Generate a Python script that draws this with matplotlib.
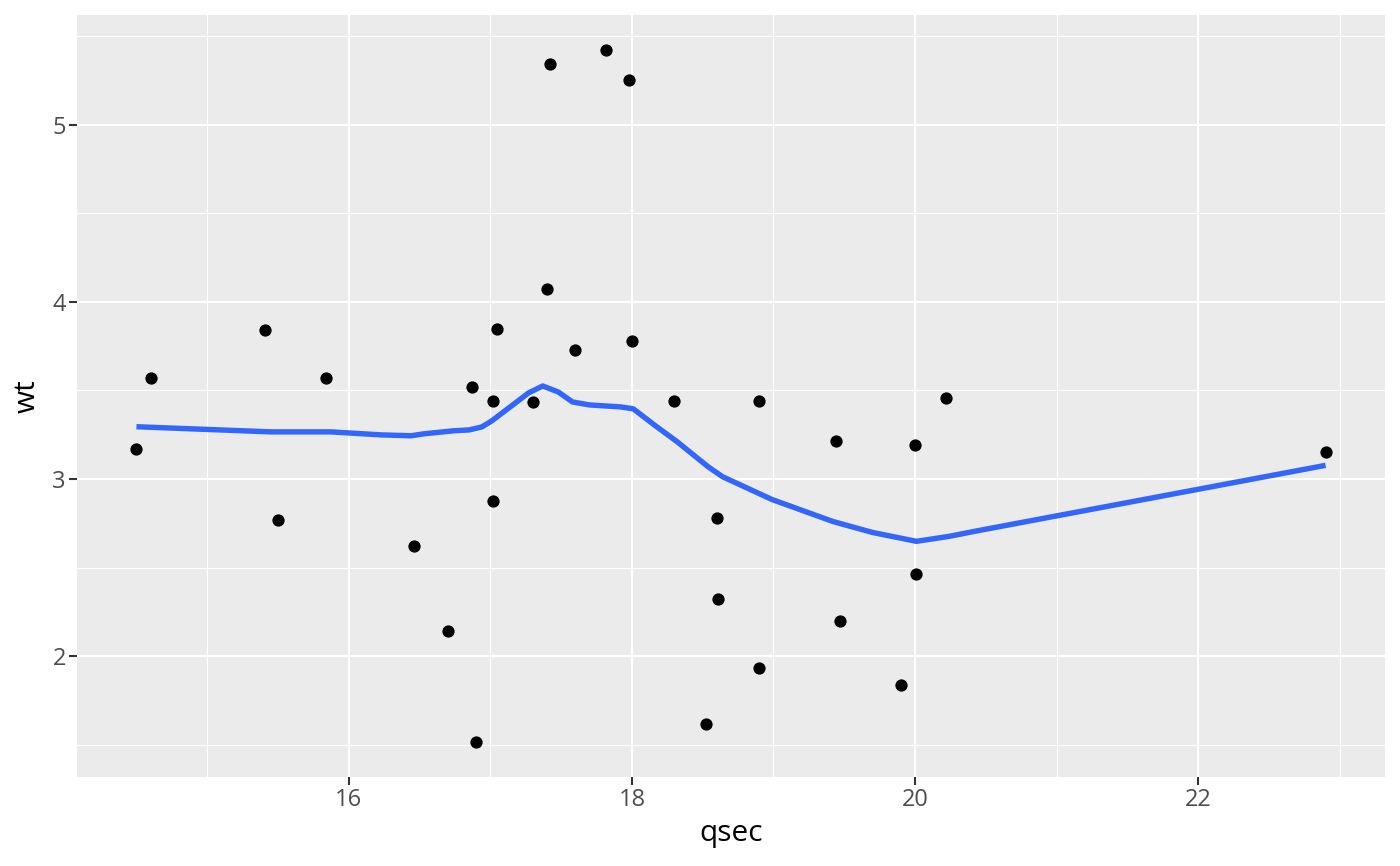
import matplotlib
matplotlib.use("Agg")
import matplotlib.pyplot as plt
from matplotlib.ticker import FixedLocator

plt.rcParams['font.family'] = ['Open Sans', 'DejaVu Sans']

# mtcars: qsec vs wt
qsec = [16.46, 17.02, 18.61, 19.44, 17.02, 20.22, 15.84, 20.00, 22.90, 18.30,
        18.90, 17.40, 17.60, 18.00, 17.98, 17.82, 17.42, 19.47, 18.52, 19.90,
        20.01, 16.87, 17.30, 15.41, 17.05, 18.90, 16.70, 16.90, 14.50, 15.50,
        14.60, 18.60]
wt = [2.620, 2.875, 2.320, 3.215, 3.440, 3.460, 3.570, 3.190, 3.150, 3.440,
      3.440, 4.070, 3.730, 3.780, 5.250, 5.424, 5.345, 2.200, 1.615, 1.835,
      2.465, 3.520, 3.435, 3.840, 3.845, 1.935, 2.140, 1.513, 3.170, 2.770,
      3.570, 2.780]

# smooth curve
smooth_x = [14.50, 15.45, 15.87, 16.23, 16.44, 16.53, 16.74, 16.85, 16.94, 17.01,
            17.27, 17.37, 17.48, 17.58, 17.70, 17.92, 18.01, 18.16, 18.32, 18.54,
            18.64, 18.99, 19.42, 19.70, 20.01, 20.24, 20.45, 22.90]
smooth_y = [3.295, 3.266, 3.266, 3.249, 3.244, 3.255, 3.272, 3.277, 3.294, 3.328,
            3.486, 3.525, 3.491, 3.435, 3.418, 3.407, 3.396, 3.304, 3.210, 3.068,
            3.013, 2.884, 2.760, 2.698, 2.648, 2.676, 2.709, 3.077]

x_ticks = [16, 18, 20, 22]
y_ticks = [2, 3, 4, 5]
x_minor = [15, 17, 19, 21, 23]
y_minor = [1.5, 2.5, 3.5, 4.5, 5.5]

fig = plt.figure(figsize=(14, 8.66), dpi=100)
ax = fig.add_axes([77/1400, 1-777/866, (1385-77)/1400, (777-15)/866])
ax.set_facecolor('#EBEBEB')

xr = max(qsec) - min(qsec)
yr = max(wt) - min(wt)
ax.set_xlim(min(qsec) - 0.05*xr, max(qsec) + 0.05*xr)
ax.set_ylim(min(wt) - 0.05*yr, max(wt) + 0.05*yr)

ax.xaxis.set_major_locator(FixedLocator(x_ticks))
ax.yaxis.set_major_locator(FixedLocator(y_ticks))
ax.xaxis.set_minor_locator(FixedLocator(x_minor))
ax.yaxis.set_minor_locator(FixedLocator(y_minor))
ax.set_xticklabels([str(t) for t in x_ticks])
ax.set_yticklabels([str(t) for t in y_ticks])

ax.grid(which='major', color='white', linewidth=1.5)
ax.grid(which='minor', color='white', linewidth=0.75)
ax.set_axisbelow(True)
for s in ax.spines.values():
    s.set_visible(False)

ax.tick_params(which='major', length=5.5, width=1.5, color='#333333',
               labelcolor='#4D4D4D', labelsize=17, pad=2.5)
ax.tick_params(which='minor', length=0)

ax.scatter(qsec, wt, s=78, color='black', zorder=3, linewidths=0)
ax.plot(smooth_x, smooth_y, color='#3366FF', linewidth=3.9, zorder=4,
        solid_capstyle='butt', solid_joinstyle='round')

ax.set_xlabel('qsec', fontsize=21.5, color='black', labelpad=5)
ax.set_ylabel('wt', fontsize=21.5, color='black', labelpad=8)

fig.savefig('out.png', dpi=100)
